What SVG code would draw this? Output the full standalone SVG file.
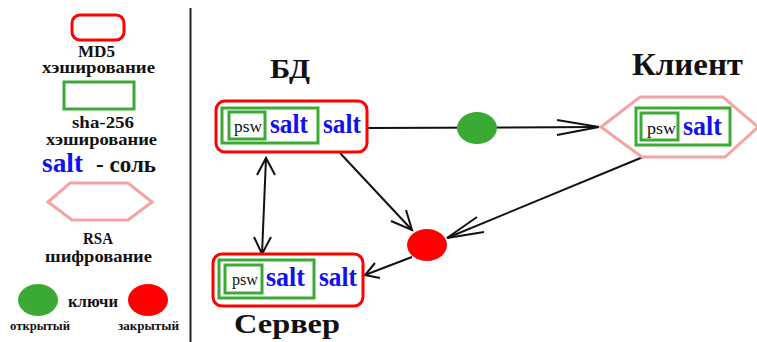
<svg xmlns="http://www.w3.org/2000/svg" width="757" height="342" viewBox="0 0 757 342">
  <style>
    .lbl { font-family: "Liberation Serif", "DejaVu Serif", serif; font-weight: bold; fill: #111; }
    .psw { font-family: "Liberation Serif", "DejaVu Serif", serif; font-size: 17px; fill: #111; }
    .salt { font-family: "Liberation Serif", "DejaVu Serif", serif; font-size: 27px; font-weight: bold; fill: #1010f0; }
    .md5 { fill: #fff; stroke: #ff0000; stroke-width: 3; }
    .sha { fill: #fff; stroke: #3aaa35; stroke-width: 3; }
    .rsa { fill: #fff; stroke: #f4a3a3; stroke-width: 3; }
    .pub { fill: #3aaa35; }
    .priv { fill: #ff0000; }
    .edge { fill: none; stroke: #111; stroke-width: 2; }
  </style>

  <rect width="757" height="342" fill="#fff"/>

  <!-- legend -->
  <g id="legend">
    <rect class="md5" x="72" y="15" width="52" height="25" rx="8"/>
    <text class="lbl" x="78" y="57" font-size="16" textLength="37" lengthAdjust="spacingAndGlyphs">MD5</text>
    <text class="lbl" x="42" y="73" font-size="16" textLength="113" lengthAdjust="spacingAndGlyphs">хэширование</text>
    <rect class="sha" x="64" y="82" width="70" height="27"/>
    <text class="lbl" x="72" y="128" font-size="16" textLength="62" lengthAdjust="spacingAndGlyphs">sha-256</text>
    <text class="lbl" x="46" y="145" font-size="16" textLength="111" lengthAdjust="spacingAndGlyphs">хэширование</text>
    <text class="salt" x="42" y="172" textLength="41" lengthAdjust="spacingAndGlyphs">salt</text>
    <text class="lbl" x="96" y="172" font-size="24" textLength="60" lengthAdjust="spacingAndGlyphs">- соль</text>
    <polygon class="rsa" points="48,202 70,183 128,183 152,202 128,220 72,220"/>
    <text class="lbl" x="83" y="244" font-size="17" textLength="30" lengthAdjust="spacingAndGlyphs">RSA</text>
    <text class="lbl" x="45" y="262" font-size="17" textLength="107" lengthAdjust="spacingAndGlyphs">шифрование</text>
    <ellipse class="pub" cx="38" cy="300" rx="20" ry="16"/>
    <ellipse class="priv" cx="148" cy="300" rx="20" ry="16"/>
    <text class="lbl" x="68" y="307" font-size="17" textLength="50" lengthAdjust="spacingAndGlyphs">ключи</text>
    <text class="lbl" x="10" y="330" font-size="12" textLength="60" lengthAdjust="spacingAndGlyphs">открытый</text>
    <text class="lbl" x="118" y="330" font-size="12" textLength="61" lengthAdjust="spacingAndGlyphs">закрытый</text>
  </g>

  <!-- divider -->
  <line x1="190.5" y1="8" x2="190.5" y2="342" stroke="#222" stroke-width="2"/>

  <!-- connectors -->
  <g id="connectors">
    <line class="edge" x1="368" y1="128" x2="599" y2="127"/>
    <path class="edge" d="M557,120 L599,127 L557,135"/>
    <line class="edge" x1="340" y1="153" x2="412" y2="230"/>
    <path class="edge" d="M406,210 L412,230 L391,221"/>
    <line class="edge" x1="643" y1="157" x2="447" y2="238"/>
    <path class="edge" d="M477,217 L447,238 L484,232"/>
    <line class="edge" x1="412" y1="257" x2="365" y2="275"/>
    <path class="edge" d="M375,263 L365,275 L380,278"/>
    <line class="edge" x1="266" y1="158" x2="262" y2="254"/>
    <path class="edge" d="M257,175 L266,158 L275,175"/>
    <path class="edge" d="M254,237 L262,254 L271,237"/>
  </g>

  <!-- keys on the links -->
  <g id="public-key">
    <ellipse class="pub" cx="477" cy="128" rx="20" ry="16"/>
  </g>
  <g id="private-key">
    <ellipse class="priv" cx="427" cy="245" rx="20" ry="16"/>
  </g>

  <!-- database node -->
  <g id="db">
    <text class="lbl" x="270" y="78" font-size="28" textLength="40" lengthAdjust="spacingAndGlyphs">БД</text>
    <rect class="md5" x="216" y="101" width="151" height="51" rx="9"/>
    <rect class="sha" x="222" y="108" width="96" height="35"/>
    <rect class="sha" x="229" y="112" width="36" height="27"/>
    <text class="psw" x="234" y="132" textLength="28" lengthAdjust="spacingAndGlyphs">psw</text>
    <text class="salt" x="270" y="133" textLength="38" lengthAdjust="spacingAndGlyphs">salt</text>
    <text class="salt" x="323" y="133" textLength="38" lengthAdjust="spacingAndGlyphs">salt</text>
  </g>

  <!-- client node -->
  <g id="client">
    <text class="lbl" x="632" y="75" font-size="32" textLength="111" lengthAdjust="spacingAndGlyphs">Клиент</text>
    <polygon class="rsa" points="601,127 640,97 723,97 758,127 725,157 642,157"/>
    <rect class="sha" x="636" y="108" width="94" height="37"/>
    <rect class="sha" x="641" y="113" width="37" height="27"/>
    <text class="psw" x="647" y="134" textLength="29" lengthAdjust="spacingAndGlyphs">psw</text>
    <text class="salt" x="683" y="135" textLength="39" lengthAdjust="spacingAndGlyphs">salt</text>
  </g>

  <!-- server node -->
  <g id="server">
    <rect class="md5" x="213" y="254" width="150" height="52" rx="9"/>
    <rect class="sha" x="219" y="260" width="95" height="38"/>
    <rect class="sha" x="225" y="265" width="37" height="28"/>
    <text class="psw" x="232" y="285" textLength="26" lengthAdjust="spacingAndGlyphs">psw</text>
    <text class="salt" x="266" y="286" textLength="39" lengthAdjust="spacingAndGlyphs">salt</text>
    <text class="salt" x="319" y="286" textLength="38" lengthAdjust="spacingAndGlyphs">salt</text>
    <text class="lbl" x="234" y="333" font-size="28" textLength="106" lengthAdjust="spacingAndGlyphs">Сервер</text>
  </g>
</svg>
